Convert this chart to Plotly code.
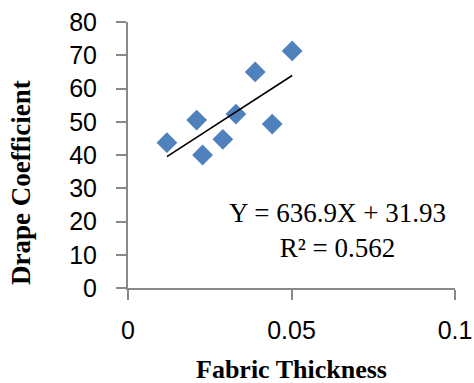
import plotly.graph_objects as go

thickness = [0.0119, 0.0210, 0.0228, 0.0290, 0.0330, 0.0389, 0.0441, 0.0502]
drape = [43.7, 50.5, 40.0, 44.7, 52.3, 65.0, 49.3, 71.3]
slope = 636.9
intercept = 31.93
x_ticks = [0, 0.05, 0.1]
x_tick_labels = ["0", "0.05", "0.1"]
y_ticks = [0, 10, 20, 30, 40, 50, 60, 70, 80]

x_min, x_max = min(thickness), max(thickness)
trend_x = [x_min, x_max]
trend_y = [slope * v + intercept for v in trend_x]

fig = go.Figure()
fig.add_trace(go.Scatter(
    x=thickness, y=drape, mode="markers",
    marker=dict(symbol="diamond", size=16, color="#4F81BD", line=dict(width=0)),
    showlegend=False, hoverinfo="skip"))
fig.add_trace(go.Scatter(
    x=trend_x, y=trend_y, mode="lines",
    line=dict(color="black", width=1.6), showlegend=False, hoverinfo="skip"))

serif = "Liberation Serif"
fig.add_annotation(x=0.0642, y=17.3, xref="x", yref="y",
                   text="Y = 636.9X + 31.93<br>R² = 0.562", showarrow=False,
                   font=dict(family=serif, size=27, color="black"),
                   align="center")
fig.add_annotation(x=0.5015, y=-0.305, xref="paper", yref="paper",
                   xanchor="center", yanchor="middle",
                   text="<b>Fabric Thickness</b>", showarrow=False,
                   font=dict(family=serif, size=26, color="black"))
fig.add_annotation(x=-0.327, y=0.395, xref="paper", yref="paper",
                   xanchor="center", yanchor="middle",
                   text="<b>Drape Coefficient</b>", showarrow=False, textangle=-90,
                   font=dict(family=serif, size=27, color="black"))

axis_common = dict(showgrid=False, zeroline=False, showline=True, automargin=False,
                   linecolor="#898989", linewidth=2,
                   ticks="outside", ticklen=10, tickwidth=2, tickcolor="#898989",
                   tickfont=dict(family="Liberation Sans", size=25, color="black"))

fig.update_layout(
    width=474, height=383,
    margin=dict(l=128, r=19, t=22, b=95),
    plot_bgcolor="white", paper_bgcolor="white",
    xaxis=dict(range=[0, 0.1], tickvals=x_ticks, ticktext=x_tick_labels,
               ticklabelstandoff=9, **axis_common),
    yaxis=dict(range=[0, 80], tickvals=y_ticks, ticklabelstandoff=14,
               **axis_common),
)

fig.write_html("out.html")
